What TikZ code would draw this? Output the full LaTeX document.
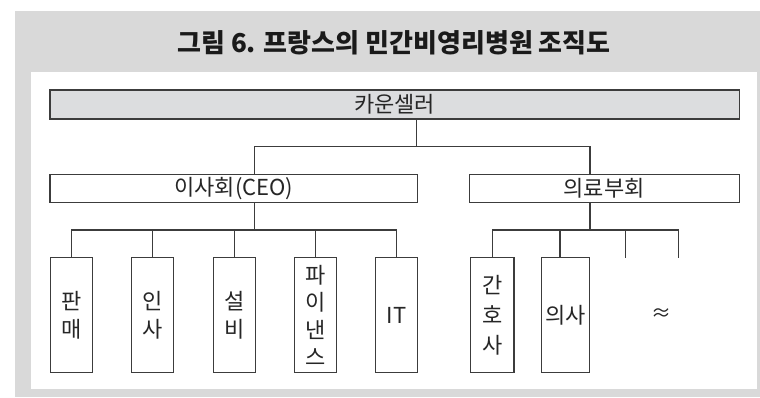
\documentclass[tikz,border=0pt]{standalone}
\usepackage{fontspec}
\setmainfont{Noto Sans CJK KR}
\definecolor{bggray}{HTML}{D9D9D9}
\definecolor{boxgray}{HTML}{DCDDDF}
\definecolor{linec}{HTML}{3C3C3C}
\definecolor{titlec}{HTML}{1A1A1A}
\tikzset{
  box/.style={draw=linec, line width=1.1pt, inner sep=0pt, align=center,
    font=\fontsize{22}{27.5}\selectfont, text=black!85},
  hbox/.style={box, minimum height=28.2pt},
  vbox/.style={box, minimum height=115pt, minimum width=42pt},
  conn/.style={draw=linec, line width=1.1pt}
}
\begin{document}
\begin{tikzpicture}[x=1pt,y=-1pt]
\useasboundingbox (0,0) rectangle (760,397);
\fill[white] (0,0) rectangle (760,397);
\fill[bggray] (15,11) rectangle (760,397);
\fill[white] (31,72) rectangle (757,389);
\node[font=\fontsize{26}{30}\bfseries\selectfont, text=titlec] (title) at (394,43) {그림 6. 프랑스의 민간비영리병원 조직도};

\node[hbox, fill=boxgray, minimum width=689.3pt, minimum height=29pt] (top) at (394.6,104.5) {카운셀러};
\node[hbox, minimum width=367.7pt] (ceo) at (233.8,188.4) {이사회(CEO)};
\node[hbox, minimum width=270.3pt] (med) at (604.2,188.4) {의료부회};

\node[vbox] (a1) at (71.2,315.2) {판\\매};
\node[vbox] (a2) at (152.5,315.2) {인\\사};
\node[vbox] (a3) at (234.2,315.2) {설\\비};
\node[vbox] (a4) at (315.2,315.2) {파\\이\\낸\\스};
\node[vbox] (a5) at (396.5,315.2) {IT};
\node[vbox, minimum width=43.3pt, font=\fontsize{22}{30}\selectfont] (b1) at (492.3,315.2) {간\\호\\사};
\node[vbox, minimum width=48pt] (b2) at (565.3,315.2) {의사};
\node[font=\fontsize{20}{24}\selectfont, text=black!85] (dots) at (661.7,315) {≈};

% coordinates
\coordinate (topdrop) at (416.7,119);
\coordinate (mainbar) at (416.7,146.7);
\coordinate (ceobar) at (254.3,230);
\coordinate (medbar) at (590,230);
\coordinate (b2top) at (560,257.7);
\coordinate (d1) at (625.7,257.7);
\coordinate (d2) at (678.3,257.7);

\draw[conn] (topdrop) -- (mainbar);
\draw[conn] (ceo.north -| ceobar) |- (mainbar) -| (med.north -| medbar);
\draw[conn] (ceo.south -| ceobar) -- (ceobar);
\draw[conn] (a1.north) |- (ceobar);
\draw[conn] (a2.north) -- (a2.north |- ceobar);
\draw[conn] (a3.north) -- (a3.north |- ceobar);
\draw[conn] (a4.north) -- (a4.north |- ceobar);
\draw[conn] (a5.north) |- (ceobar);
\draw[conn] (med.south -| medbar) -- (medbar);
\draw[conn] (b1.north) |- (d2 |- medbar) -- (d2);
\draw[conn] (b2top) -- (b2top |- medbar);
\draw[conn] (d1) -- (d1 |- medbar);
\end{tikzpicture}
\end{document}
